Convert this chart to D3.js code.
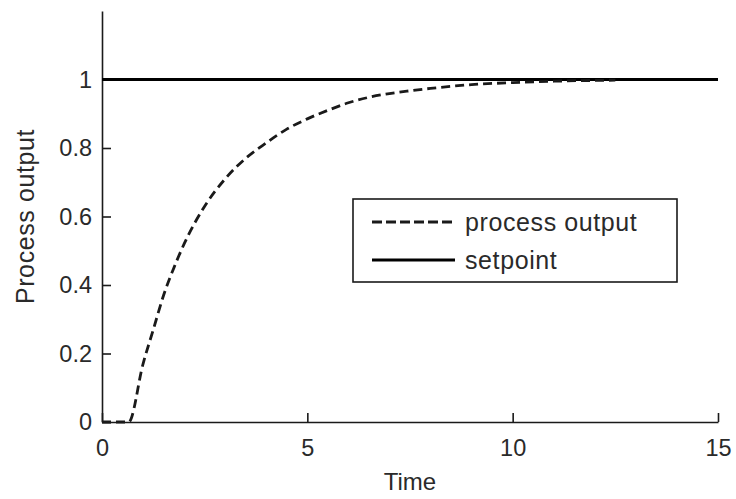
<!DOCTYPE html>
<html>
<head>
<meta charset="utf-8">
<script src="https://cdn.jsdelivr.net/npm/d3@7"></script>
<style>
  html, body { margin: 0; padding: 0; background: #fff; }
  svg { display: block; font-family: "Liberation Sans", Arial, sans-serif; }
</style>
</head>
<body>
<div id="chart"></div>
<script>
// values
const timeValues = [0, 0.65, 1.0, 1.25, 1.5, 1.75, 2.0, 2.5, 3.0, 3.5, 4.0, 4.5, 5.0, 5.5, 6.0, 6.5, 7.0, 7.5, 8.0, 9.0, 10.0, 11.0, 12.5];
const outputValues = [0, 0, 0.17, 0.27, 0.37, 0.45, 0.52, 0.63, 0.71, 0.77, 0.815, 0.855, 0.885, 0.91, 0.932, 0.948, 0.959, 0.967, 0.974, 0.985, 0.991, 0.995, 0.998];
const setpointTimes = [0, 15];
const setpointValues = [1, 1];
const xTicks = [0, 5, 10, 15];
const yTicks = [0, 0.2, 0.4, 0.6, 0.8, 1];
const legendLabels = ["process output", "setpoint"];

const width = 736, height = 499;
const margin = { top: 11, right: 18, bottom: 77, left: 102 };
const ink = "#1a1a1a";
const textInk = "#2a2a2a";

const svg = d3.select("#chart").append("svg")
  .attr("width", width)
  .attr("height", height);

const x = d3.scaleLinear().domain([0, 15]).range([margin.left, width - margin.right]);
const y = d3.scaleLinear().domain([0, 1.2]).range([height - margin.bottom, margin.top]);

// axes, ticks point inward like the original
const xAxis = svg.append("g")
  .attr("transform", `translate(0,${y(0)})`)
  .call(d3.axisBottom(x).tickValues(xTicks).tickSizeInner(-9).tickSizeOuter(0).tickPadding(14).tickFormat(d3.format("d")));
const yAxis = svg.append("g")
  .attr("transform", `translate(${x(0)},0)`)
  .call(d3.axisLeft(y).tickValues(yTicks).tickSizeInner(-9).tickSizeOuter(0).tickPadding(10).tickFormat(d => d === 0 || d === 1 ? d3.format("d")(d) : d3.format(".1f")(d)));

[xAxis, yAxis].forEach(a => {
  a.select(".domain").attr("stroke", ink).attr("stroke-width", 1.6);
  a.selectAll(".tick line").attr("stroke", ink).attr("stroke-width", 1.6);
  a.selectAll(".tick text").attr("fill", textInk).attr("font-size", 23.5);
});
xAxis.selectAll(".tick text").attr("dy", "0.85em");

// axis titles
svg.append("text")
  .attr("x", (x(0) + x(15)) / 2)
  .attr("y", 490)
  .attr("text-anchor", "middle")
  .attr("fill", textInk)
  .attr("font-size", 24)
  .text("Time");

svg.append("text")
  .attr("transform", `translate(34,${(y(0) + y(1.2)) / 2}) rotate(-90)`)
  .attr("text-anchor", "middle")
  .attr("fill", textInk)
  .attr("font-size", 25)
  .attr("letter-spacing", 0.6)
  .text("Process output");

// lines
const line = d3.line()
  .x(d => x(d[0]))
  .y(d => y(d[1]))
  .curve(d3.curveMonotoneX);

svg.append("path")
  .datum(setpointTimes.map((t, i) => [t, setpointValues[i]]))
  .attr("fill", "none")
  .attr("stroke", "#000")
  .attr("stroke-width", 3.2)
  .attr("d", line);

svg.append("path")
  .datum(timeValues.map((t, i) => [t, outputValues[i]]))
  .attr("fill", "none")
  .attr("stroke", ink)
  .attr("stroke-width", 2.8)
  .attr("stroke-dasharray", "9,5")
  .attr("d", line);

// legend
const lg = svg.append("g").attr("transform", "translate(353,199)");
lg.append("rect")
  .attr("width", 324)
  .attr("height", 83)
  .attr("fill", "#fff")
  .attr("stroke", ink)
  .attr("stroke-width", 1.6);

legendLabels.forEach((name, i) => {
  const cy = 23 + i * 38;
  lg.append("line")
    .attr("x1", 19).attr("x2", 102)
    .attr("y1", cy).attr("y2", cy)
    .attr("stroke", i === 0 ? ink : "#000")
    .attr("stroke-width", i === 0 ? 2.8 : 3.2)
    .attr("stroke-dasharray", i === 0 ? "10,4" : null);
  lg.append("text")
    .attr("x", 112)
    .attr("y", cy)
    .attr("dy", "0.35em")
    .attr("fill", textInk)
    .attr("font-size", 25)
    .attr("letter-spacing", 0.6)
    .text(name);
});
</script>
</body>
</html>
